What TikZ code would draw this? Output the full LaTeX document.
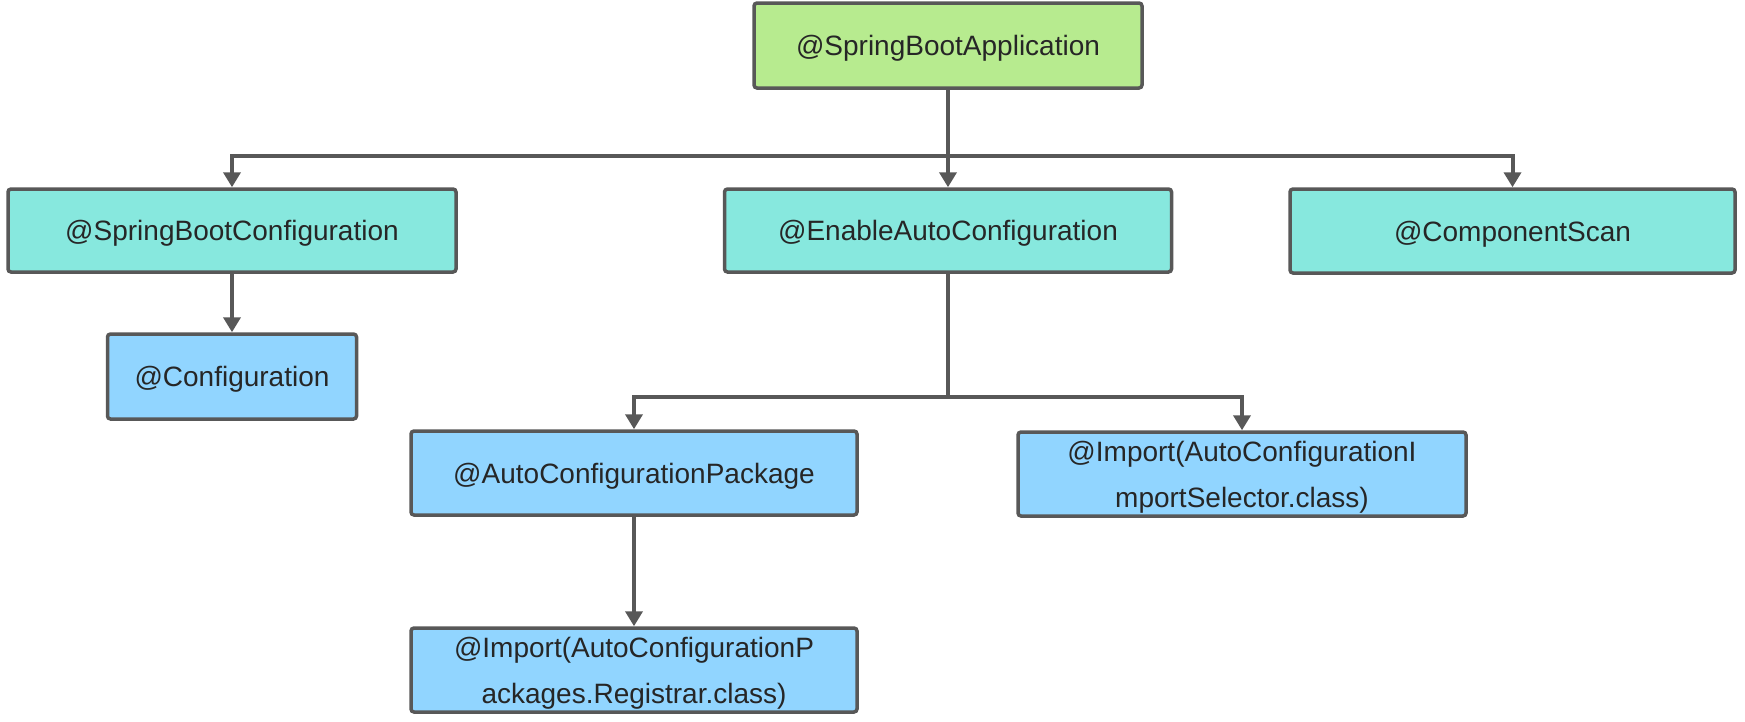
\documentclass[tikz,border=0pt]{standalone}
\usepackage{fontspec}
\setmainfont{Liberation Sans}
\usetikzlibrary{arrows.meta}
\definecolor{bordergray}{RGB}{88,88,88}
\definecolor{appgreen}{RGB}{183,235,143}
\definecolor{tealbox}{RGB}{135,232,222}
\definecolor{bluebox}{RGB}{145,213,255}
\definecolor{txt}{RGB}{38,38,38}
\tikzset{
  box/.style={draw=bordergray, line width=3.5pt, rounded corners=3pt, inner sep=0pt,
    text=txt, font=\fontsize{28}{46}\selectfont, align=center,
    text height=20pt, text depth=0pt},
  twoline/.style={text height=66pt, text depth=0pt},
  appbox/.style={box, fill=appgreen},
  tbox/.style={box, fill=tealbox},
  bbox/.style={box, fill=bluebox},
  conn/.style={draw=bordergray, line width=4pt, -{Triangle[length=15pt,width=17pt]}},
}
\begin{document}
\begin{tikzpicture}[x=1pt,y=-1pt]
\useasboundingbox (0,0) rectangle (1745,721);
\coordinate (c1) at (0,156);
\coordinate (c2) at (0,397);
\node[appbox, minimum width=388pt, minimum height=85pt] (top) at (948,45.5) {@SpringBootApplication};
\node[tbox, minimum width=448pt, minimum height=83pt] (sbc) at (232,230.5) {@SpringBootConfiguration};
\node[tbox, minimum width=447pt, minimum height=83pt] (eac) at (948,230.5) {@EnableAutoConfiguration};
\node[tbox, minimum width=445pt, minimum height=84pt] (cs) at (1512.5,231) {@ComponentScan};
\node[bbox, minimum width=249pt, minimum height=85pt] (conf) at (232,376.5) {@Configuration};
\node[bbox, minimum width=446pt, minimum height=84pt] (acp) at (634,473) {@AutoConfigurationPackage};
\node[bbox, twoline, minimum width=446pt, minimum height=84pt] (imp1) at (634,670) {@Import(AutoConfigurationP\\ackages.Registrar.class)};
\node[bbox, twoline, minimum width=448pt, minimum height=84pt] (imp2) at (1242,474) {@Import(AutoConfigurationI\\mportSelector.class)};
\draw[conn] (top.south) -- (top.south |- c1) -| (sbc.north);
\draw[conn] (top.south) -- (eac.north);
\draw[conn] (top.south) -- (top.south |- c1) -| (cs.north);
\draw[conn] (sbc.south) -- (conf.north);
\draw[conn] (eac.south) -- (eac.south |- c2) -| (acp.north);
\draw[conn] (eac.south) -- (eac.south |- c2) -| (imp2.north);
\draw[conn] (acp.south) -- (imp1.north);
\end{tikzpicture}
\end{document}
